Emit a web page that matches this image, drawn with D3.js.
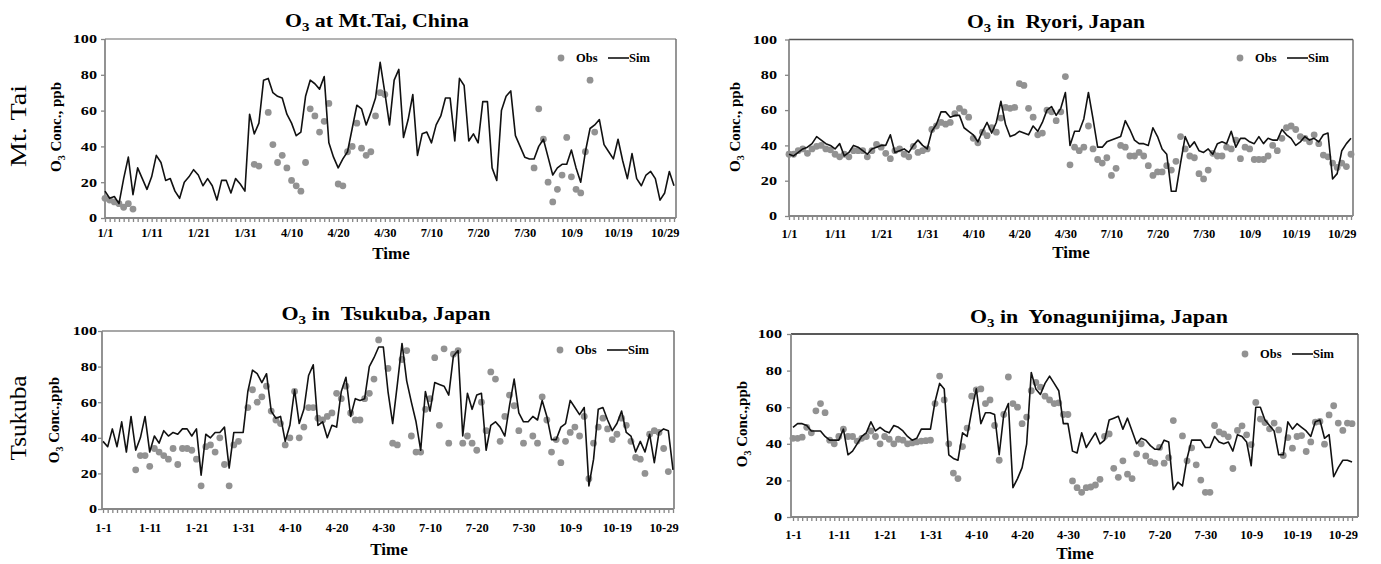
<!DOCTYPE html>
<html>
<head>
<meta charset="utf-8">
<script src="https://cdn.jsdelivr.net/npm/d3@7"></script>
<style>
    body { margin: 0; background: #fff; }
    svg text { font-family: "Liberation Serif", "Times New Roman", serif; font-weight: bold; fill: #000; white-space: pre; }
    .axis path, .axis line { stroke: #868686; stroke-width: 1.3; }
    .axis text { font-size: 12.5px; }
</style>
</head>
<body>
<div class="chart"></div>
<script>
/* Global Constants
============================================= */
const SVG_WIDTH = 1381;
const SVG_HEIGHT = 564;

const N_DAYS = 123;   // Jan 1-31, Apr 1-30, Jul 1-31, Oct 1-31

const X_TICKS_SLASH = ["1/1", "1/11", "1/21", "1/31", "4/10", "4/20", "4/30",
                       "7/10", "7/20", "7/30", "10/9", "10/19", "10/29"];
const X_TICKS_DASH = ["1-1", "1-11", "1-21", "1-31", "4-10", "4-20", "4-30",
                      "7-10", "7-20", "7-30", "10-9", "10-19", "10-29"];
const Y_TICKS = [0, 20, 40, 60, 80, 100];

const OBS_COLOR = "#929292";
const SIM_COLOR = "#111111";
const AXIS_COLOR = "#878787";
const Y_LABEL_STRETCH = 1.35;   // y tick digits are drawn wide in the original

/* Data
============================================= */
var mtTaiSim = [
    15, 11, 12, 8, 22, 34, 13, 28, 22, 16,
    23, 35, 31, 21, 22, 15, 11, 20, 23, 27,
    24, 18, 22, 18, 10, 21, 21, 14, 22, 19,
    15, 58, 47, 53, 77, 78, 70, 68, 67, 58,
    53, 46, 48, 68, 77, 75, 72, 79, 42, 34,
    28, 33, 37, 50, 63, 61, 52, 59, 67, 87,
    70, 52, 77, 83, 45, 55, 69, 35, 47, 48,
    42, 52, 57, 67, 67, 43, 78, 74, 43, 47,
    42, 65, 65, 28, 21, 60, 68, 71, 46, 40,
    34, 33, 33, 40, 44, 34, 24, 28, 30, 30,
    38, 28, 20, 37, 50, 52, 55, 41, 37, 33,
    44, 32, 22, 36, 22, 18, 24, 26, 22, 10,
    14, 26, 18
];
var mtTaiObs = [
    11, 10, 9, 8, 6, 8, 5, null, null, null,
    null, null, null, null, null, null, null, null, null, null,
    null, null, null, null, null, null, null, null, null, null,
    null, null, 30, 29, null, 59, 41, 31, 35, 28,
    21, 18, 15, 31, 61, 57, 48, 54, 64, null,
    19, 18, 37, 40, 53, 39, 35, 37, 57, 70,
    69, null, null, null, null, null, null, null, null, null,
    null, null, null, null, null, null, null, null, null, null,
    null, null, null, null, null, null, null, null, null, null,
    null, null, 28, 61, 44, 20, 9, 16, 24, 45,
    23, 16, 14, 37, 77, 48, null, null, null, null,
    null, null, null, null, null, null, null, null, null, null,
    null, null, null
];

var ryoriSim = [
    35, 34, 36, 38, 39, 41, 45, 43, 41, 40,
    38, 41, 34, 36, 40, 39, 37, 35, 38, 39,
    40, 40, 46, 36, 37, 38, 36, 40, 43, 40,
    38, 48, 52, 59, 59, 56, 57, 57, 50, 48,
    46, 42, 48, 53, 47, 53, 65, 52, 45, 46,
    48, 47, 46, 51, 48, 53, 60, 62, 57, 61,
    70, 40, 48, 48, 55, 70, 55, 39, 39, 42,
    43, 44, 45, 54, 49, 43, 41, 41, 40, 50,
    45, 38, 35, 14, 14, 30, 45, 39, 42, 37,
    36, 38, 35, 41, 42, 41, 48, 39, 44, 44,
    42, 41, 45, 41, 44, 43, 43, 49, 46, 44,
    40, 42, 45, 43, 44, 42, 46, 47, 21, 24,
    37, 41, 44
];
var ryoriObs = [
    35, 35, 37, 38, 35.5, 38, 39.5, 40, 38, 37.5,
    35, 33.5, 35, 33.5, 37, 37, 37, 33.5, 37, 40.5,
    39, 35.5, 32.5, 37, 38, 35, 33.5, 39.5, 36, 37,
    38, 49, 51, 53, 52, 53, 58, 61, 59, 56,
    44, 41.5, 47.5, 45.5, 50, 47.5, 55.5, 61.5, 61, 61.5,
    75, 74, 61, 56, 46, 47, 60, 59, 54, 59,
    79, 29, 39, 37, 39, 51, 38, 32, 30, 33,
    23, 27, 40, 39, 34, 34, 36, 34, 28.5, 23,
    25, 25, 28.5, 26, 31, 45, 38, 34, 33, 24,
    21, 26, 35.5, 34, 34, 39, 38, 43, 32.5, 39,
    38, 32, 32, 32, 34, 40, 37, 44, 50, 51,
    49, 45, 44, 42, 46, 41, 34.5, 33.5, 30, 27.5,
    30, 28, 35
];

var tsukubaSim = [
    38, 35, 45, 35, 49, 32, 52, 33, 40, 52,
    32, 41, 37, 44, 41, 43, 42, 45, 45, 41,
    45, 19, 42, 40, 43, 43, 46, 23, 43, 43,
    43, 66, 78, 76, 71, 76, 55, 51, 52, 38,
    47, 67, 48, 56, 75, 81, 47, 49, 40, 47,
    46, 66, 74, 52, 62, 61, 62, 80, 85, 91,
    91, 66, 48, 70, 93, 72, 60, 49, 33, 66,
    55, 71, 70, 69, 64, 86, 89, 41, 65, 56,
    64, 65, 33, 47, 49, 46, 41, 58, 73, 54,
    49, 49, 52, 50, 61, 52, 39, 39, 46, 48,
    61, 57, 53, 57, 13, 28, 56, 57, 50, 44,
    48, 55, 43, 41, 32, 38, 32, 42, 26, 43,
    45, 44, 22
];
var tsukubaObs = [
    null, null, null, null, null, null, null, 22, 30, 30,
    24, 34, 32, 30, 28, 34, 25, 34, 34, 33,
    28, 13, 35, 36, 32, 40, 25, 13, 36, 38,
    null, 57, 67, 60, 63, 69, 55, 50, 48, 36,
    40, 66, 40, 46, 57, 57, 51, 50, 52, 54,
    65, 62, 69, 54, 50, 50, 62, 65, 73, 95,
    null, 79, 37, 36, 84, 89, 41, 32, 32, 56,
    62, 85, 47, 90, 37, 87, 89, 37, 41, 37,
    33, 60, 44, 77, 73, 38, 52, 64, 58, 44,
    37, null, 41, 37, 63, 50, 32, 39, 26, 38,
    43, 46, 41, 52, 17, 37, 46, 51, 45, 39,
    42, 51, 47, 38, 29, 28, 20, 42, 44, 43,
    34, 21, null
];

var yonaguniSim = [
    49, 51, 51, 50, 47, 47, 47, 44, 42, 42,
    42, 48, 34, 36, 40, 44, 46, 52, 47, 49,
    47, 46, 50, 49, 47, 44, 42, 43, 48, 48,
    48, 63, 73, 70, 34, 32, 31, 46, 44, 58,
    70, 51, 57, 57, 56, 34, 56, 62, 16, 21,
    27, 40, 79, 70, 67, 73, 77, 73, 69, 51,
    51, 36, 35, 46, 38, 42, 46, 40, 42, 53,
    54, 55, 48, 54, 47, 40, 43, 42, 39, 37,
    37, 42, 41, 15, 19, 17, 32, 42, 42, 42,
    38, 38, 44, 41, 40, 41, 36, 45, 44, 41,
    28, 60, 60, 53, 50, 47, 34, 34, 52, 48,
    51, 49, 47, 44, 52, 53, 43, 45, 22, 27,
    31, 31, 30
];
var yonaguniObs = [
    43, 43, 43.6, 49, 46, 58, 62, 57, 42, 40,
    44, 48, 44, 44, 41.5, 43, 44, 47, 44, 40,
    44, 42.5, 40, 42.5, 42, 40, 40.5, 41, 41.5, 41.7,
    42, 62, 77, 64, 40, 24, 21, 38.5, 48.6, 66,
    69.5, 70, 62, 64, 50, 31, 56, 76.5, 62, 60,
    51, 54.6, 69, 73.5, 71, 66, 64, 62, 62.4, 56,
    56, 19.7, 16, 13.5, 16, 16.4, 17.5, 20.6, 44, 45.4,
    26.6, 21.7, 30.7, 23.4, 21, 34.5, 40, 33.4, 30.3, 29.4,
    38, 29.4, 32.5, 52.7, null, 44.3, 30.7, 37.8, 28.5, 20.2,
    13.5, 13.5, 50, 46.5, 45.4, 43.8, 26.5, 47.3, 49.8, 44.9,
    39.6, 62.6, 53.5, 51.6, 48.2, 51.3, 47.6, 33.6, 43.4, 37.6,
    44, 44.5, 35.8, 41, 51.8, 52.2, 39.8, 55.8, 60.8, 51.3,
    47.3, 51.3, 51
];

/* Panel layout (pixels)
============================================= */
var PANELS = [
    { site: " at Mt.Tai, China", yLabel: " Conc., ppb", ticks: X_TICKS_SLASH,
      sim: mtTaiSim, obs: mtTaiObs,
      left: 105, right: 676, top: 39, bottom: 218, xFirst: 105, xLast: 674,
      topColor: "#9a9a9a", sideColor: "#6a6a6a",
      titleX: 377, titleY: 27, titleW: 184, yLabelX: 56, yLabelY: 127, yGap: 8,
      tickY: 237, timeX: 391, timeY: 259, legendX: 561, legendY: 58 },
    { site: " in  Ryori, Japan", yLabel: " Conc., ppb", ticks: X_TICKS_SLASH,
      sim: ryoriSim, obs: ryoriObs,
      left: 789, right: 1353, top: 39.5, bottom: 216, xFirst: 789, xLast: 1351,
      topColor: "#555555", sideColor: "#666666",
      titleX: 1056, titleY: 28, titleW: 178, yLabelX: 735, yLabelY: 127, yGap: 12,
      tickY: 238, timeX: 1071, timeY: 258, legendX: 1240, legendY: 58 },
    { site: " in  Tsukuba, Japan", yLabel: " Conc.,ppb", ticks: X_TICKS_DASH,
      sim: tsukubaSim, obs: tsukubaObs,
      left: 102, right: 674, top: 331, bottom: 509, xFirst: 103, xLast: 673,
      topColor: "#8a8a8a", sideColor: "#666666",
      titleX: 386, titleY: 320, titleW: 209, yLabelX: 54, yLabelY: 420, yGap: 5,
      tickY: 532, timeX: 389, timeY: 555, legendX: 560, legendY: 350 },
    { site: " in  Yonagunijima, Japan", yLabel: " Conc.,ppb", ticks: X_TICKS_DASH,
      sim: yonaguniSim, obs: yonaguniObs,
      left: 791, right: 1358, top: 334, bottom: 517, xFirst: 793, xLast: 1352,
      topColor: "#222222", sideColor: "#555555",
      titleX: 1099, titleY: 323, titleW: 258, yLabelX: 742, yLabelY: 424, yGap: 9,
      tickY: 539, timeX: 1075, timeY: 559, legendX: 1245, legendY: 354 }
];

//****************** init *****************************//
var svg = d3.select(".chart")
    .append("svg")
    .attr("width", SVG_WIDTH)
    .attr("height", SVG_HEIGHT);

PANELS.forEach(drawPanel);

drawRowLabel("Mt. Tai", 18, 126, 82);
drawRowLabel("Tsukuba", 18, 418, 85);


/* Functions
============================================= */

/*
 * draws one station panel: frame, axes, obs points, sim line, legend
 *
 * @param p  panel layout + data
 */
function drawPanel(p) {
    var g = svg.append("g");
    var days = d3.range(N_DAYS);

    var xScale = d3.scalePoint().domain(days).range([p.xFirst, p.xLast]);
    var yScale = d3.scaleLinear().domain([0, 100]).range([p.bottom, p.top]);

    // frame: top + right edges
    g.append("line")
        .attr("x1", p.left).attr("x2", p.right)
        .attr("y1", p.top).attr("y2", p.top)
        .attr("stroke", p.topColor).attr("stroke-width", 1.4);
    g.append("line")
        .attr("x1", p.right).attr("x2", p.right)
        .attr("y1", p.top).attr("y2", p.bottom)
        .attr("stroke", p.sideColor).attr("stroke-width", 1.4);

    // x axis: tick on every day, label every 10 days
    var bottomAxis = d3.axisBottom(xScale)
        .tickValues(days)
        .tickSize(4)
        .tickSizeOuter(0)
        .tickFormat(function(i) {
            return i % 10 === 0 ? p.ticks[i / 10] : "";
        });

    var xAxis = g.append("g")
        .attr("class", "axis")
        .attr("transform", `translate(0, ${p.bottom})`)
        .call(bottomAxis);
    xAxis.select(".domain").remove();
    xAxis.selectAll("text")
        .attr("y", p.tickY - p.bottom)
        .attr("dy", null);

    // y axis (labels stretched sideways like the original)
    var leftAxis = d3.axisLeft(yScale)
        .tickValues(Y_TICKS)
        .tickSize(4)
        .tickSizeOuter(0);

    var yAxis = g.append("g")
        .attr("class", "axis")
        .attr("transform", `translate(${p.left}, 0)`)
        .call(leftAxis);
    yAxis.select(".domain").remove();
    yAxis.selectAll("text")
        .attr("x", -p.yGap / Y_LABEL_STRETCH)
        .attr("transform", `scale(${Y_LABEL_STRETCH}, 1)`)
        .style("font-size", "12px");

    g.append("line")
        .attr("x1", p.left).attr("x2", p.left)
        .attr("y1", p.top).attr("y2", p.bottom)
        .attr("stroke", AXIS_COLOR).attr("stroke-width", 1.8);
    g.append("line")
        .attr("x1", p.left).attr("x2", p.right)
        .attr("y1", p.bottom).attr("y2", p.bottom)
        .attr("stroke", AXIS_COLOR).attr("stroke-width", 1.8);

    // obs: grey dots
    g.append("g")
        .selectAll("circle")
        .data(p.obs.map(function(v, i) { return { i: i, v: v }; })
                   .filter(function(d) { return d.v !== null; }))
        .enter()
        .append("circle")
        .attr("cx", function(d) { return xScale(d.i); })
        .attr("cy", function(d) { return yScale(d.v); })
        .attr("r", 3.4)
        .attr("fill", OBS_COLOR);

    // sim: black line
    var simLine = d3.line()
        .x(function(d, i) { return xScale(i); })
        .y(function(d) { return yScale(d); });

    g.append("path")
        .datum(p.sim)
        .attr("d", simLine)
        .attr("fill", "none")
        .attr("stroke", SIM_COLOR)
        .attr("stroke-width", 1.6)
        .attr("stroke-linejoin", "round");

    // title with subscript 3
    var title = g.append("text")
        .attr("x", p.titleX)
        .attr("y", p.titleY)
        .attr("text-anchor", "middle")
        .attr("textLength", p.titleW)
        .attr("lengthAdjust", "spacingAndGlyphs")
        .style("font-size", "19px");
    title.append("tspan").text("O");
    title.append("tspan").attr("dy", 4).style("font-size", "13px").text("3");
    title.append("tspan").attr("dy", -4).text(p.site);

    // y axis label
    var yText = g.append("text")
        .attr("transform", `translate(${p.yLabelX}, ${p.yLabelY}) rotate(-90)`)
        .attr("text-anchor", "middle")
        .attr("dy", "0.35em")
        .style("font-size", "15px");
    yText.append("tspan").text("O");
    yText.append("tspan").attr("dy", 4).style("font-size", "10px").text("3");
    yText.append("tspan").attr("dy", -4).text(p.yLabel);

    // x axis label
    g.append("text")
        .attr("x", p.timeX)
        .attr("y", p.timeY)
        .attr("text-anchor", "middle")
        .style("font-size", "17px")
        .text("Time");

    // legend
    var legend = g.append("g")
        .attr("transform", `translate(${p.legendX}, ${p.legendY})`);
    legend.append("circle")
        .attr("r", 3.4)
        .attr("fill", OBS_COLOR);
    legend.append("text")
        .attr("x", 15).attr("dy", "0.35em")
        .style("font-size", "12.5px")
        .text("Obs");
    legend.append("line")
        .attr("x1", 47).attr("x2", 68)
        .attr("stroke", SIM_COLOR).attr("stroke-width", 1.6);
    legend.append("text")
        .attr("x", 68).attr("dy", "0.35em")
        .style("font-size", "12.5px")
        .text("Sim");
}

/*
 * draws the rotated station name at far left
 *
 * @param label, x, y, length
 */
function drawRowLabel(label, x, y, length) {
    svg.append("text")
        .attr("transform", `translate(${x}, ${y}) rotate(-90)`)
        .attr("text-anchor", "middle")
        .attr("dy", "0.35em")
        .attr("textLength", length)
        .attr("lengthAdjust", "spacingAndGlyphs")
        .style("font-size", "23px")
        .style("font-weight", "normal")
        .text(label);
}
</script>
</body>
</html>
